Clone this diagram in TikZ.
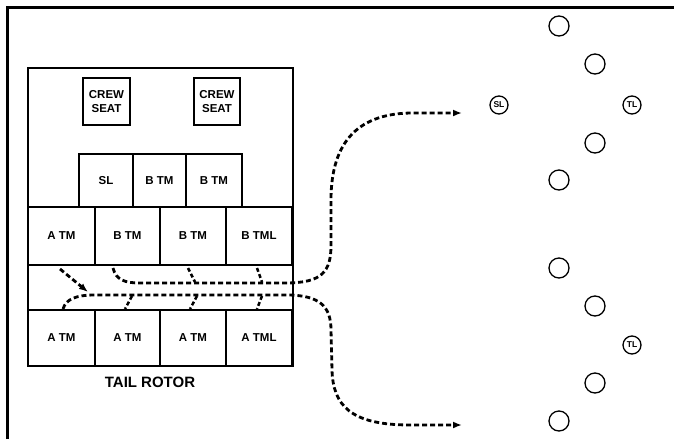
\documentclass[tikz,border=0pt]{standalone}
\usepackage{fontspec}
\setmainfont{Liberation Sans}
\usetikzlibrary{arrows.meta}

\begin{document}
\begin{tikzpicture}[x=1pt, y=-1pt,
    cell/.style={draw, line width=1.3pt, inner sep=0pt, font=\fontsize{11.5}{13.5}\selectfont\bfseries, align=center},
    seat/.style={circle, draw, line width=1.3pt, minimum size=20pt, inner sep=0pt},
    tagseat/.style={seat, minimum size=18pt, font=\fontsize{8.5}{8.5}\selectfont\bfseries},
    route/.style={line width=2.8pt, dash pattern=on 5pt off 3pt},
    tick/.style={line width=2.5pt, dash pattern=on 4pt off 2.5pt}]
    \useasboundingbox (0,0) rectangle (674,439);

    % Page frame
    \draw[line width=3pt] (7,439) -- (7,7) -- (674,7);

    % Cabin outline
    \draw[line width=2.6pt] (28,68) rectangle (293,366);

    % Crew seats
    \node[cell, minimum width=47pt, minimum height=47pt] (crew1) at (106.5,101.5) {CREW\\SEAT};
    \node[cell, minimum width=46pt, minimum height=47pt] (crew2) at (217,101.5) {CREW\\SEAT};

    % Middle row
    \node[cell, minimum width=54pt, minimum height=53pt] (m1) at (106,180.5) {SL};
    \node[cell, minimum width=53pt, minimum height=53pt] (m2) at (159.5,180.5) {B TM};
    \node[cell, minimum width=56pt, minimum height=53pt] (m3) at (214,180.5) {B TM};

    % Forward row
    \node[cell, minimum width=67pt, minimum height=58pt] (a1) at (61.5,236) {A TM};
    \node[cell, minimum width=65pt, minimum height=58pt] (a2) at (127.5,236) {B TM};
    \node[cell, minimum width=66pt, minimum height=58pt] (a3) at (193,236) {B TM};
    \node[cell, minimum width=66pt, minimum height=58pt] (a4) at (259,236) {B TML};

    % Aft row
    \node[cell, minimum width=67pt, minimum height=56pt] (b1) at (61.5,338) {A TM};
    \node[cell, minimum width=65pt, minimum height=56pt] (b2) at (127.5,338) {A TM};
    \node[cell, minimum width=66pt, minimum height=56pt] (b3) at (193,338) {A TM};
    \node[cell, minimum width=66pt, minimum height=56pt] (b4) at (259,338) {A TML};

    \draw[line width=2.6pt] (28,366) -- (293,366);
    \node[font=\fontsize{15}{16}\selectfont\bfseries] (tail) at (150,382) {TAIL ROTOR};

    % Upper formation
    \node[seat] (u1) at (559,26) {};
    \node[seat] (u2) at (595,64) {};
    \node[tagseat] (sl) at (499,105) {SL};
    \node[tagseat] (tl1) at (632,105) {TL};
    \node[seat] (u3) at (595,143) {};
    \node[seat] (u4) at (559,180) {};

    % Lower formation
    \node[seat] (l1) at (559,268) {};
    \node[seat] (l2) at (595,306) {};
    \node[tagseat] (tl2) at (632,345) {TL};
    \node[seat] (l3) at (595,383) {};
    \node[seat] (l4) at (559,421) {};

    % Exit routes
    \coordinate (upin) at (113,268);
    \coordinate (upout) at (462,113);
    \coordinate (lowin) at (63,309);
    \coordinate (lowout) at (462,425);
    \draw[route, -{Latex[length=9pt,width=7pt]}] (upin) .. controls (116,280) and (125,283) .. (140,283)
        -- (285,283) .. controls (322,283) and (331,272) .. (331,245) -- (331,200)
        .. controls (331,140) and (360,113) .. (413,113) -- (upout);
    \draw[route, -{Latex[length=9pt,width=7pt]}] (lowin) .. controls (66,299) and (76,295) .. (95,295)
        -- (290,295) .. controls (318,296) and (331,305) .. (331,330) -- (332,370)
        .. controls (333,405) and (350,425) .. (410,425) -- (lowout);

    % Feeder ticks
    \draw[route, -{Latex[length=9pt,width=7pt]}] (60,269) -- (88,292);
    \draw[tick] (188,268) -- (195,282);
    \draw[tick] (257,268) -- (262,282);
    \draw[tick] (132,296) -- (125,309);
    \draw[tick] (197,296) -- (190,309);
    \draw[tick] (262,296) -- (257,309);
\end{tikzpicture}
\end{document}
